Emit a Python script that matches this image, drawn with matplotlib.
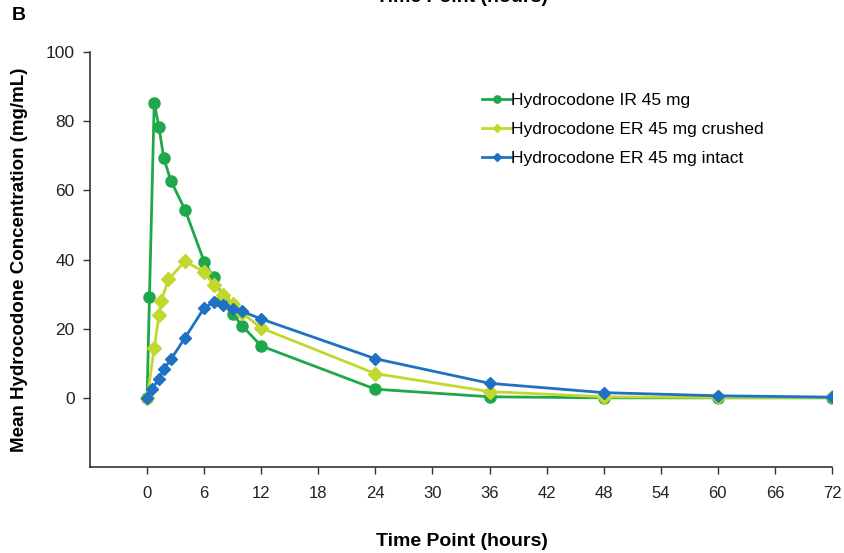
import matplotlib
matplotlib.use("Agg")
import matplotlib.pyplot as plt

# Data
t_ir = [0, 0.25, 0.75, 1.25, 1.75, 2.5, 4, 6, 7, 8, 9, 10, 12, 24, 36, 48, 60, 72]
c_ir = [0, 29.2, 85.3, 78.3, 69.3, 62.8, 54.3, 39.4, 34.8, 29.0, 24.3, 20.8, 15.0, 2.5, 0.3, 0.0, 0.0, 0.0]

t_crushed = [0, 0.75, 1.25, 1.5, 2.25, 4, 6, 7, 8, 9, 10, 12, 24, 36, 48, 60, 72]
c_crushed = [0, 14.3, 24.0, 28.1, 34.3, 39.5, 36.4, 32.7, 29.8, 27.2, 24.5, 20.2, 7.0, 1.8, 0.3, 0.1, 0.1]

t_intact = [0, 0.5, 1.25, 1.75, 2.5, 4, 6, 7, 8, 9, 10, 12, 24, 36, 48, 60, 72]
c_intact = [0, 2.6, 5.4, 8.3, 11.1, 17.4, 26.0, 27.7, 26.7, 25.7, 25.0, 22.8, 11.3, 4.2, 1.5, 0.6, 0.2]

labels = ["Hydrocodone IR 45 mg", "Hydrocodone ER 45 mg crushed", "Hydrocodone ER 45 mg intact"]
x_ticks = [0, 6, 12, 18, 24, 30, 36, 42, 48, 54, 60, 66, 72]
y_ticks = [0, 20, 40, 60, 80, 100]

col_ir = "#1fa84b"
col_cr = "#c2d82e"
col_in = "#1f72c1"

plt.rcParams['font.family'] = ['Liberation Sans', 'DejaVu Sans']

fig = plt.figure(figsize=(8.44, 5.53), dpi=100)
ax = fig.add_axes([90/844, 1-467/553, (832-90)/844, (467-52)/553])

ax.plot(t_ir, c_ir, color=col_ir, lw=2.0, marker='o', ms=8, label=labels[0], zorder=3)
ax.plot(t_crushed, c_crushed, color=col_cr, lw=2.0, marker='D', ms=7, label=labels[1], zorder=3)
ax.plot(t_intact, c_intact, color=col_in, lw=2.0, marker='D', ms=6, label=labels[2], zorder=4)

ax.set_xlim(-6, 72)
ax.set_ylim(-20, 100)
ax.set_xticks(x_ticks)
ax.set_yticks(y_ticks)
ax.spines['top'].set_visible(False)
ax.spines['right'].set_visible(False)
for s in ['left', 'bottom']:
    ax.spines[s].set_linewidth(1.2)
    ax.spines[s].set_color('#333333')
ax.tick_params(direction='out', length=5, width=1.0, colors='#333333', labelcolor='#222222')
ax.tick_params(axis='x', labelsize=12, pad=9)
ax.tick_params(axis='y', labelsize=12.5, pad=6)

ax.set_ylabel("Mean Hydrocodone Concentration (mg/mL)", fontsize=13.5, fontweight='bold')
ax.yaxis.set_label_coords(-0.084, 0.5)
fig.text(462/844, 1-541/553, "Time Point (hours)", ha='center', va='center',
         fontsize=14, fontweight='bold')
# title of the panel above, cut off at the top edge as in the reference
fig.text(462/844, 1-(-3)/553, "Time Point (hours)", ha='center', va='center',
         fontsize=14, fontweight='bold')
fig.text(12/844, 1-15/553, "B", ha='left', va='center', fontsize=14, fontweight='bold')

leg = ax.legend(loc='upper left', bbox_to_anchor=(475/844, 1-86/553), bbox_transform=fig.transFigure,
                frameon=False, fontsize=12.5, handlelength=1.7, handletextpad=0.0,
                labelspacing=0.8, markerscale=0.65, borderaxespad=0)

fig.savefig("out.png", dpi=100)
